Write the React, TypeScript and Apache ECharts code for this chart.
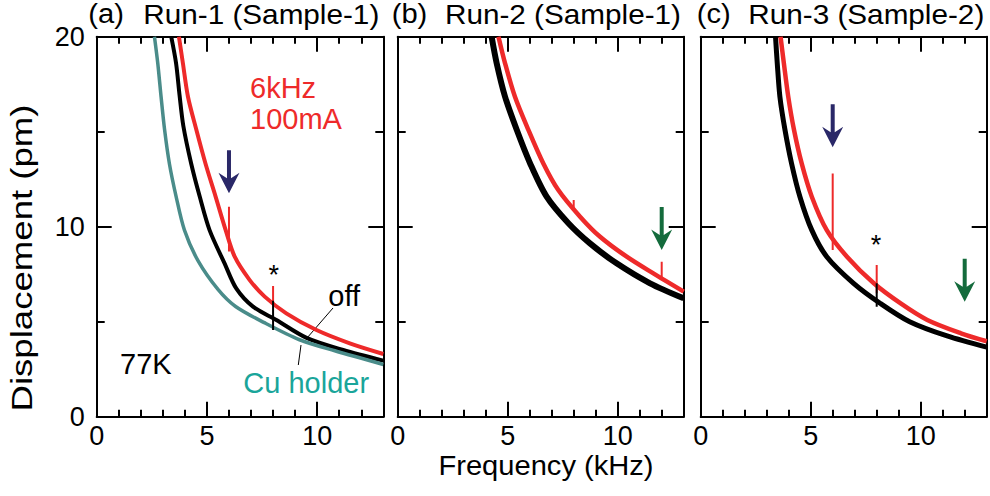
import React, { useEffect, useRef } from 'react';
import * as echarts from 'echarts';

// ---------- data (frequency kHz, displacement pm) ----------
const xTickLabels = [0, 5, 10];
const yTickLabels = [0, 10, 20];

// Panel (a) Run-1 (Sample-1)
const aBlack = [[3.38, 20], [3.6, 18.6], [3.76, 16.9], [3.93, 15.3], [4.29, 13.3], [4.67, 11.6], [5.12, 9.82], [5.8, 8.07], [6.33, 6.75], [7.09, 5.79], [8.15, 5.09], [9.52, 4.15], [11.18, 3.51], [13, 2.95]];
const aTeal = [[2.62, 20], [2.77, 18.6], [2.92, 16.84], [3.08, 15.1], [3.3, 13.3], [3.6, 11.6], [3.98, 9.82], [4.6, 8.2], [5.5, 6.7], [6.3, 5.8], [7.6, 4.95], [9.2, 4.05], [10.8, 3.47], [13, 2.75]];
const aRed = [[3.73, 20], [3.91, 18.6], [4.14, 16.84], [4.52, 15.1], [4.94, 13.3], [5.39, 11.6], [5.85, 9.82], [6.26, 8.42], [6.94, 7.19], [7.62, 6.32], [8.6, 5.44], [9.97, 4.56], [11.48, 3.86], [13, 3.3]];
const aRedSpikes = [[[6, 8.7], [6, 11.05]], [[8, 5.9], [8, 6.88]]];
const aBlackSpikes = [[[8, 4.56], [8, 6.1]]];
const aNavyArrows = [[6, 11.76]];

// Panel (b) Run-2 (Sample-1)
const bBlack = [[4.27, 20], [4.5, 18.6], [4.88, 16.84], [5.41, 15.1], [6.02, 13.33], [6.77, 11.58], [7.76, 10.18], [8.74, 9.12], [9.95, 8.07], [11.47, 7.02], [13, 6.23]];
const bRed = [[4.58, 20], [4.88, 18.6], [5.33, 16.84], [5.94, 15.1], [6.62, 13.33], [7.3, 11.93], [8.29, 10.53], [9.2, 9.47], [10.41, 8.42], [11.62, 7.54], [13, 6.58]];
const bRedSpikes = [[[8, 10.9], [8, 11.4]], [[12, 7.2], [12, 8.16]]];
const bGreenArrows = [[12, 8.77]];

// Panel (c) Run-3 (Sample-2)
const cBlack = [[3.4, 20], [3.48, 18.6], [3.6, 16.84], [3.83, 15.1], [4.13, 13.33], [4.51, 11.58], [5.05, 9.82], [5.73, 8.42], [6.95, 7.02], [8.17, 5.96], [9.5, 5.0], [11.2, 4.25], [13, 3.66]];
const cRed = [[3.63, 20], [3.78, 18.6], [3.98, 16.84], [4.24, 15.1], [4.59, 13.33], [5.05, 11.58], [5.73, 9.82], [6.65, 8.42], [7.87, 7.02], [9.09, 5.96], [10.3, 5.09], [11.83, 4.39], [13, 3.97]];
const cRedSpikes = [[[6, 8.77], [6, 12.8]], [[8, 6.5], [8, 7.98]]];
const cBlackSpikes = [[[8, 5.79], [8, 7.02]]];
const cNavyArrows = [[6, 14.18]];
const cGreenArrows = [[12, 6.05]];

const titles = [
  { tag: '(a)', run: 'Run-1 (Sample-1)' },
  { tag: '(b)', run: 'Run-2 (Sample-1)' },
  { tag: '(c)', run: 'Run-3 (Sample-2)' },
];

// ---------- styles ----------
const FONT = '"Liberation Sans", Arial, Helvetica, sans-serif';
const RED = '#ee2a2a';
const TEAL_LINE = '#4a8c8a';
const TEAL_TEXT = '#1aa59a';
const NAVY = '#2a2868';
const GREEN = '#146b3c';
const ARROW = 'path://M8.5,0 L12.5,0 L12.5,28 L21,22.5 L10.5,43 L0,22.5 L8.5,28 Z';

const grids = [
  { left: 96.7, top: 36.7, width: 286.6, height: 380 },
  { left: 397.7, top: 36.7, width: 286, height: 380 },
  { left: 700.7, top: 36.7, width: 286, height: 380 },
];

function xAxis(gi: number, pos: 'bottom' | 'top') {
  return {
    type: 'value', gridIndex: gi, position: pos, min: 0, max: 13, interval: 5,
    axisLine: { show: true, onZero: false, lineStyle: { color: '#000', width: 2 } },
    axisTick: { show: true, inside: true, length: 15, lineStyle: { color: '#000', width: 2 } },
    minorTick: { show: true, splitNumber: 5, length: 7, lineStyle: { color: '#000', width: 2 } },
    splitLine: { show: false }, minorSplitLine: { show: false },
    axisLabel: {
      show: pos === 'bottom', margin: 7, fontSize: 27, lineHeight: 24, color: '#000', fontFamily: FONT,
      formatter: (v: number) => (xTickLabels.includes(v) ? String(v) : ''),
    },
  };
}
function yAxis(gi: number, pos: 'left' | 'right') {
  return {
    type: 'value', gridIndex: gi, position: pos, min: 0, max: 20, interval: 10,
    axisLine: { show: true, onZero: false, lineStyle: { color: '#000', width: 2 } },
    axisTick: { show: true, inside: true, length: 15, lineStyle: { color: '#000', width: 2 } },
    minorTick: { show: true, splitNumber: 2, length: 8, lineStyle: { color: '#000', width: 2 } },
    splitLine: { show: false }, minorSplitLine: { show: false },
    axisLabel: {
      show: pos === 'left' && gi === 0, margin: 12, fontSize: 27, color: '#000', fontFamily: FONT,
      formatter: (v: number) => (yTickLabels.includes(v) ? String(v) : ''),
    },
  };
}

function curve(gi: number, data: number[][], color: string, width: number) {
  return {
    type: 'line', xAxisIndex: gi * 2, yAxisIndex: gi * 2, data, showSymbol: false, symbol: 'none',
    smooth: 0.3, clip: true, silent: true,
    lineStyle: { color, width, cap: 'butt', join: 'round' },
  };
}
function spikes(gi: number, list: number[][][], color: string, width: number) {
  return list.map((d) => ({
    type: 'line', xAxisIndex: gi * 2, yAxisIndex: gi * 2, data: d, symbol: 'none', silent: true, z: 3,
    lineStyle: { color, width, cap: 'butt' },
  }));
}
function arrows(gi: number, data: number[][], color: string) {
  return {
    type: 'scatter', xAxisIndex: gi * 2, yAxisIndex: gi * 2, data, symbol: ARROW,
    symbolSize: [21, 43], symbolOffset: [0, '-50%'], silent: true, z: 5,
    itemStyle: { color, opacity: 1 },
  };
}

function text(x: number, y: number, t: string, size: number, color = '#000', extra: any = {}) {
  return {
    type: 'text', x, y, silent: true, ...extra,
    style: { text: t, fill: color, font: `${size}px ${FONT}`, align: 'left', verticalAlign: 'middle' },
  };
}

const titleX = [[88.3, 143.3], [391.7, 445], [696.7, 748.3]];

export default function App() {
  const ref = useRef<HTMLDivElement>(null);
  useEffect(() => {
    const chart = echarts.init(ref.current!, null, { renderer: 'svg' });
    const graphic: any[] = [];
    titles.forEach((t, i) => {
      graphic.push(text(titleX[i][0], 14, t.tag, 27, '#000', { scaleX: 1.08 }));
      graphic.push(text(titleX[i][1], 14, t.run, 27, '#000', { scaleX: 1.1 }));
    });
    graphic.push({
      type: 'text', x: 22, y: 258, rotation: Math.PI / 2, scaleX: 1.22, silent: true,
      style: { text: 'Displacement (pm)', fill: '#000', font: `30px ${FONT}`, align: 'center', verticalAlign: 'middle' },
    });
    graphic.push({
      type: 'text', x: 546, y: 465, scaleX: 1.04, silent: true,
      style: { text: 'Frequency (kHz)', fill: '#000', font: `28px ${FONT}`, align: 'center', verticalAlign: 'middle' },
    });
    graphic.push(text(250, 87.5, '6kHz', 29, RED));
    graphic.push(text(250, 119, '100mA', 29, RED));
    graphic.push(text(120, 364.3, '77K', 29));
    graphic.push(text(243.3, 382.5, 'Cu holder', 29, TEAL_TEXT));
    graphic.push(text(328.3, 295.5, 'off', 29));
    graphic.push({ type: 'text', x: 273.8, y: 275, silent: true, style: { text: '*', fill: '#000', font: `27px ${FONT}`, align: 'center', verticalAlign: 'middle' } });
    graphic.push({ type: 'text', x: 876, y: 244.5, silent: true, style: { text: '*', fill: '#000', font: `27px ${FONT}`, align: 'center', verticalAlign: 'middle' } });
    graphic.push({ type: 'line', silent: true, shape: { x1: 333, y1: 308, x2: 307, y2: 338 }, style: { stroke: '#000', lineWidth: 1 } });
    graphic.push({ type: 'line', silent: true, shape: { x1: 301, y1: 345, x2: 298.3, y2: 365 }, style: { stroke: '#000', lineWidth: 1 } });

    const option: any = {
      animation: false,
      backgroundColor: '#fff',
      grid: grids.map((g) => ({ ...g, containLabel: false, show: false })),
      xAxis: [0, 1, 2].flatMap((i) => [xAxis(i, 'bottom'), xAxis(i, 'top')]),
      yAxis: [0, 1, 2].flatMap((i) => [yAxis(i, 'left'), yAxis(i, 'right')]),
      series: [
        curve(0, aBlack, '#000', 4),
        curve(0, aTeal, TEAL_LINE, 3.5),
        curve(0, aRed, RED, 4),
        ...spikes(0, aRedSpikes, RED, 2),
        ...spikes(0, aBlackSpikes, '#000', 2),
        arrows(0, aNavyArrows, NAVY),
        curve(1, bBlack, '#000', 6),
        curve(1, bRed, RED, 4.5),
        ...spikes(1, bRedSpikes, RED, 2),
        arrows(1, bGreenArrows, GREEN),
        curve(2, cBlack, '#000', 5),
        curve(2, cRed, RED, 4.5),
        ...spikes(2, cRedSpikes, RED, 2),
        ...spikes(2, cBlackSpikes, '#000', 2),
        arrows(2, cNavyArrows, NAVY),
        arrows(2, cGreenArrows, GREEN),
      ],
      graphic,
    };
    chart.setOption(option);
    return () => chart.dispose();
  }, []);
  return <div ref={ref} style={{ position: 'absolute', left: 0, top: 0, width: 990, height: 496, background: '#fff' }} />;
}
